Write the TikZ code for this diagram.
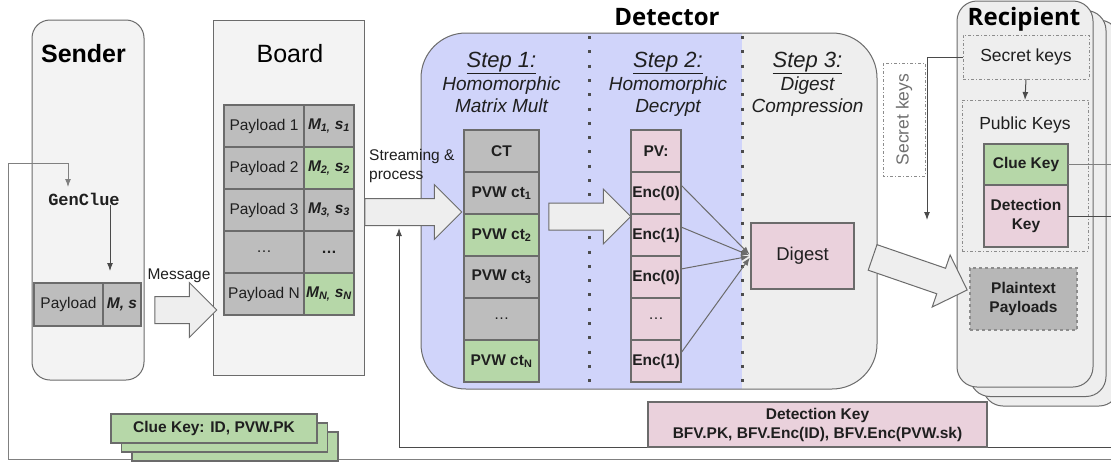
\documentclass[tikz,border=0pt]{standalone}
\usepackage{fontspec}
\setmainfont{Liberation Sans}
\setmonofont{Liberation Mono}
\newfontfamily\headfont{Open Sans}
\usetikzlibrary{arrows.meta,shapes.arrows,shadows}

\definecolor{panelfill}{HTML}{F3F3F3}
\definecolor{stagefill}{HTML}{EEEEEE}
\definecolor{stageblue}{HTML}{D0D4FA}
\definecolor{cellgray}{HTML}{BDBDBD}
\definecolor{cellgreen}{HTML}{B6D7A8}
\definecolor{cellpink}{HTML}{EAD1DC}
\definecolor{plaingray}{HTML}{B7B7B7}
\definecolor{edgecol}{HTML}{6B6B6B}
\definecolor{wirecol}{HTML}{4A4A4A}
\definecolor{dashcol}{HTML}{8C8C8C}
\definecolor{inkcol}{HTML}{1F1F1F}

\newcommand\lblsize{\fontsize{15.5}{19}\selectfont}
\newcommand\msub[1]{{\bfseries\itshape M\textsubscript{#1,} s\textsubscript{#1}}}
\newcommand\stephead[1]{{\fontsize{22}{22.5}\selectfont\underline{#1}}}

\tikzset{
  panel/.style={draw=edgecol, line width=1pt, fill=panelfill},
  cell/.style={draw=edgecol, line width=1.2pt, outer sep=0pt, inner sep=0pt,
    minimum height=42pt, text=inkcol, font=\lblsize},
  bcell/.style={cell, font=\lblsize\bfseries},
  blockarrow/.style={single arrow, draw=edgecol, line width=1pt, fill=stagefill,
    inner xsep=0pt, inner ysep=13pt, single arrow head extend=14pt},
  wire/.style={draw=wirecol, line width=1pt},
  tip/.style={-{Latex[length=8pt,width=6pt]}},
  keybox/.style={draw=dashcol, line width=1pt, dash dot, outer sep=0pt},
  steptxt/.style={font=\fontsize{19}{22.5}\selectfont\itshape, text=inkcol,
    align=center, inner sep=0pt, anchor=north},
  sepline/.style={draw=black!70, line width=3pt, dash pattern=on 3pt off 11.3pt},
  title/.style={font=\fontsize{25}{30}\selectfont, text=black, anchor=base, inner sep=0pt},
}

\begin{document}
\begin{tikzpicture}[x=1pt, y=-1pt]
  \useasboundingbox (0,0) rectangle (1111,461);
  \fill[white] (0,0) rectangle (1111,461);

  % sender
  \node[panel, rounded corners=18pt, minimum width=112pt, minimum height=360pt] (sd) at (88,200) {};
  \node[title, font=\fontsize{25}{30}\selectfont\bfseries] (sdt) at (83.5,62) {Sender};
  \node[font=\fontsize{17}{20}\selectfont\ttfamily\bfseries, text=inkcol, inner sep=0pt] (gc) at (84,199) {GenClue};
  \node[cell, fill=cellgray, minimum width=69pt, minimum height=43pt] (pl) at (68.5,304.5) {Payload};
  \node[bcell, fill=cellgray, minimum width=38pt, minimum height=43pt] (pr) at (122,304.5) {\itshape M, s};

  % board
  \node[panel, minimum width=151pt, minimum height=355pt] (bd) at (288.5,197.5) {};
  \node[title] (bdt) at (290,62) {Board};
  \node[cell, fill=cellgray, minimum width=80pt] (b1) at (264,126) {Payload 1};
  \node[cell, fill=cellgray, minimum width=50pt] (m1) at (329,126) {\msub{1}};
  \node[cell, fill=cellgray, minimum width=80pt] (b2) at (264,168) {Payload 2};
  \node[cell, fill=cellgreen, minimum width=50pt] (m2) at (329,168) {\msub{2}};
  \node[cell, fill=cellgray, minimum width=80pt] (b3) at (264,210) {Payload 3};
  \node[cell, fill=cellgray, minimum width=50pt] (m3) at (329,210) {\msub{3}};
  \node[cell, fill=cellgray, minimum width=80pt] (b4) at (264,252) {…};
  \node[bcell, fill=cellgray, minimum width=50pt] (m4) at (329,252) {…};
  \node[cell, fill=cellgray, minimum width=80pt] (b5) at (264,294) {Payload N};
  \node[cell, fill=cellgreen, minimum width=50pt] (m5) at (329,294) {\msub{N}};

  % detector
  \path[fill=stagefill, rounded corners=45pt] (421,33) rectangle (877,389);
  \begin{scope}
    \clip[rounded corners=45pt] (421,33) rectangle (877,389);
    \fill[stageblue] (421,33) rectangle (742,389);
  \end{scope}
  \draw[draw=edgecol, line width=1pt, rounded corners=45pt] (421,33) rectangle (877,389);
  \draw[sepline] (589,36) -- (589,386);
  \draw[sepline] (742,36) -- (742,386);
  \node[title, font=\headfont\bfseries\fontsize{24}{28}\selectfont] (dtt) at (667,25) {Detector};
  \node[steptxt] (s1) at (501.5,52) {\stephead{Step 1:}\\Homomorphic\\Matrix Mult};
  \node[steptxt] (s2) at (668,52) {\stephead{Step 2:}\\Homomorphic\\Decrypt};
  \node[steptxt] (s3) at (807.5,52) {\stephead{Step 3:}\\Digest\\Compression};

  \node[bcell, fill=cellgray, minimum width=75pt] (c0) at (501.5,151) {CT};
  \node[bcell, fill=cellgray, minimum width=75pt] (c1) at (501.5,193) {PVW ct\textsubscript{1}};
  \node[bcell, fill=cellgreen, minimum width=75pt] (c2) at (501.5,235) {PVW ct\textsubscript{2}};
  \node[bcell, fill=cellgray, minimum width=75pt] (c3) at (501.5,277) {PVW ct\textsubscript{3}};
  \node[cell, fill=cellgray, minimum width=75pt] (c4) at (501.5,319) {…};
  \node[bcell, fill=cellgreen, minimum width=75pt] (c5) at (501.5,361) {PVW ct\textsubscript{N}};

  \node[bcell, fill=cellpink, minimum width=50pt] (p0) at (656,151) {PV:};
  \node[bcell, fill=cellpink, minimum width=50pt] (p1) at (656,193) {Enc(0)};
  \node[bcell, fill=cellpink, minimum width=50pt] (p2) at (656,235) {Enc(1)};
  \node[bcell, fill=cellpink, minimum width=50pt] (p3) at (656,277) {Enc(0)};
  \node[cell, fill=cellpink, minimum width=50pt] (p4) at (656,319) {…};
  \node[bcell, fill=cellpink, minimum width=50pt] (p5) at (656,361) {Enc(1)};

  \node[cell, fill=cellpink, minimum width=103pt, minimum height=66pt,
    font=\fontsize{18.5}{22}\selectfont] (dg) at (802.5,256) {Digest};
  \foreach \c in {p1,p2,p3,p5}
    \draw[wire, draw=edgecol, tip, shorten >=2pt] ([yshift=8pt]\c.east) -- (dg.west);

  % recipient
  \node[panel, fill=stagefill, rounded corners=20pt, minimum width=136pt, minimum height=386pt,
    double copy shadow={shadow xshift=13pt, shadow yshift=-9.5pt}] (rc) at (1025,194) {};
  \node[title, font=\headfont\bfseries\fontsize{24}{28}\selectfont] (rct) at (1024,25) {Recipient};
  \node[keybox, minimum width=126pt, minimum height=44pt, text=inkcol,
    font=\fontsize{17.5}{21}\selectfont] (sk) at (1026,57) {Secret keys};
  \node[keybox, minimum width=126pt, minimum height=151pt] (pk) at (1025,175.5) {};
  \node[title, font=\fontsize{17.5}{21}\selectfont, text=inkcol] (pkt) at (1025,129) {Public Keys};
  \node[bcell, fill=cellgreen, minimum width=84pt, minimum height=41pt] (ck) at (1026,164.5) {Clue Key};
  \node[bcell, fill=cellpink, minimum width=84pt, minimum height=62pt, align=center] (dk) at (1026,216) {Detection\\Key};
  \node[bcell, fill=plaingray, draw=dashcol, dashed, minimum width=107pt, minimum height=62pt,
    align=center] (pt) at (1023.5,299) {Plaintext\\Payloads};
  \node[keybox, rotate=90, minimum width=113pt, minimum height=42pt, text=dashcol!80!black,
    font=\fontsize{17.5}{21}\selectfont] (vsk) at (904,119.5) {Secret keys};

  % block arrows
  \node[blockarrow, minimum height=62pt] (msg) at (179,310) {};
  \node[title, font=\lblsize, text=inkcol] (msgt) at (179,279) {Message};
  \node[blockarrow, minimum height=97pt] (str) at (406.5,212) {};
  \node[font=\lblsize, text=inkcol, align=left, anchor=north west, inner sep=0pt] (strt) at (369,149) {Streaming \&\\process};
  \node[blockarrow, minimum height=82pt] (mul) at (583,216.5) {};
  \node[blockarrow, minimum height=100pt, rotate=-19] (out) at (913.5,271.5) {};

  % wires
  \coordinate (ckR) at (1116,459);
  \coordinate (ckL) at (8,163);
  \coordinate (gcin) at (68,187);
  \coordinate (dkR) at (1116,447);
  \coordinate (strin) at (399,228);
  \coordinate (skend) at (927,220);
  \draw[wire, draw=gray, tip] (ck.east) -| (ckR) -| (ckL) -| (gcin);
  \draw[wire, tip] (dk.east) -| (dkR) -| (strin);
  \draw[wire, tip] (sk.west) -| (skend);
  \draw[wire, tip] (sk.south) -- (pk.north);
  \draw[wire, tip] ([xshift=26pt]gc.south) -- ([xshift=-12pt, yshift=12pt]pr.north);

  % keys sent out
  \node[bcell, fill=cellpink, minimum width=339pt, minimum height=45pt, align=center] (dk2) at (817.5,424.5)
    {Detection Key\\BFV.PK, BFV.Enc(ID), BFV.Enc(PVW.sk)};
  \node[bcell, fill=cellgreen, minimum width=206pt, minimum height=29pt,
    double copy shadow={shadow xshift=10.5pt, shadow yshift=-9pt}] (ck2) at (214,428.5) {Clue Key: ID, PVW.PK};
\end{tikzpicture}
\end{document}
